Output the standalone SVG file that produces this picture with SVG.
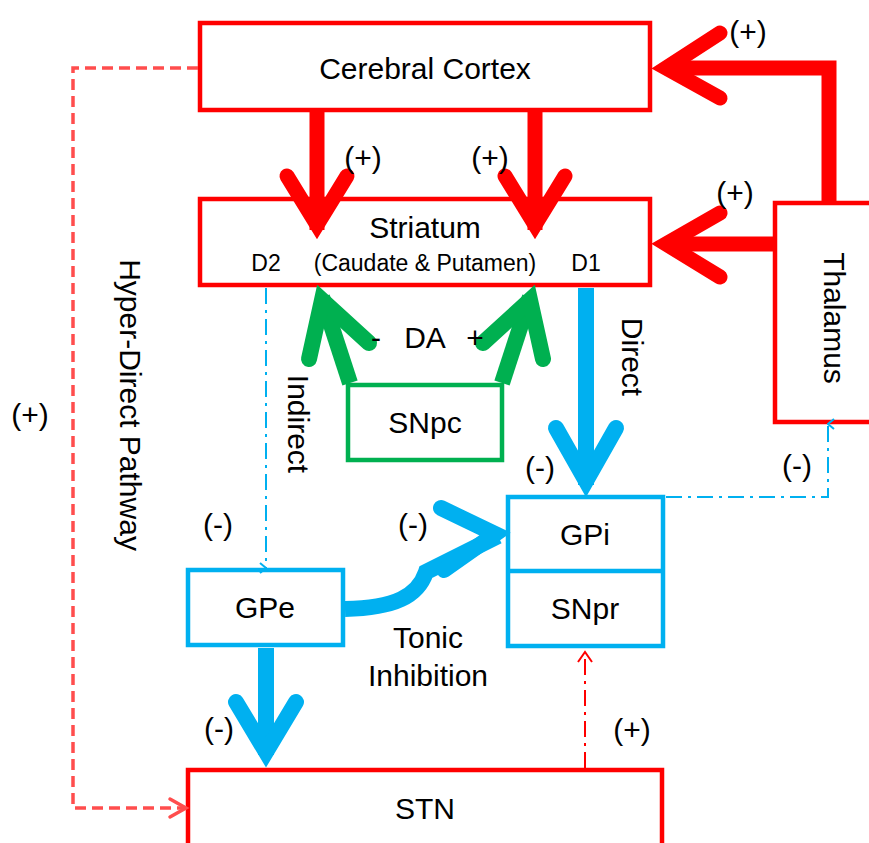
<svg xmlns="http://www.w3.org/2000/svg" width="869" height="843" viewBox="0 0 869 843">
<style>
text{font-family:"Liberation Sans",Arial,sans-serif;fill:#000;}
.lbl{font-size:30px;text-anchor:middle;}
.sm{font-size:23px;text-anchor:middle;}
.red{fill:#fff;stroke:#ff0000;stroke-width:4.5;}
.blue{fill:#fff;stroke:#00b0f0;stroke-width:4.5;}
.green{fill:#fff;stroke:#00b050;stroke-width:4.5;}
.thR{fill:none;stroke:#ff0000;stroke-width:15;}
.thB{fill:none;stroke:#00b0f0;stroke-width:16;}
.thG{fill:none;stroke:#00b050;stroke-width:16;}
.head{stroke-linecap:round;stroke-linejoin:miter;stroke-miterlimit:10;}
</style>
<defs>
<marker id="openB" markerWidth="12" markerHeight="12" refX="6" refY="1" orient="auto-start-reverse" markerUnits="userSpaceOnUse" viewBox="0 0 12 12">
<path d="M1,7 L6,1 L11,7" fill="none" stroke="#00b0f0" stroke-width="2"/>
</marker>
</defs>
<g id="cortex">
<rect class="red" x="200" y="23" width="450" height="87"/>
<text class="lbl" x="425" y="79">Cerebral Cortex</text>
</g>
<g id="striatum">
<rect class="red" x="200" y="199" width="450" height="86"/>
<text class="lbl" x="425" y="238">Striatum</text>
<text class="sm" x="425" y="271">(Caudate &amp; Putamen)</text>
<text class="sm" x="266" y="271">D2</text>
<text class="sm" x="586" y="271">D1</text>
</g>
<g id="thalamus">
<rect class="red" x="775" y="203" width="110" height="219"/>
<text class="lbl" transform="translate(824,318) rotate(90)">Thalamus</text>
</g>
<g id="snpc">
<rect class="green" x="348" y="385" width="154" height="75"/>
<text class="lbl" x="425" y="433">SNpc</text>
</g>
<g id="gpe">
<rect class="blue" x="188" y="570" width="155" height="75"/>
<text class="lbl" x="265" y="618">GPe</text>
</g>
<g id="gpi">
<rect class="blue" x="508" y="497" width="155" height="149"/>
<line x1="508" y1="571" x2="663" y2="571" stroke="#00b0f0" stroke-width="4.5"/>
<text class="lbl" x="585" y="545">GPi</text>
<text class="lbl" x="585" y="619">SNpr</text>
</g>
<g id="stn">
<rect class="red" x="188" y="770" width="474" height="90"/>
<text class="lbl" x="425" y="819">STN</text>
</g>
<g id="connectors">
<!-- hyper-direct -->
<path d="M198,68 H73 V808 H184" fill="none" stroke="#ff4d4d" stroke-width="3.5" stroke-dasharray="11,6"/>
<path d="M170,799 L186,808 L170,817" fill="none" stroke="#ff4d4d" stroke-width="3.5" stroke-linecap="round"/>
<!-- cortex -> striatum -->
<line class="thR" x1="317" y1="112" x2="317" y2="230"/>
<polyline class="thR head" points="287,176 317,225 347,176"/>
<line class="thR" x1="535" y1="112" x2="535" y2="230"/>
<polyline class="thR head" points="505,176 535,225 565,176"/>
<!-- thalamus -> cortex -->
<polyline class="thR" points="829,201 829,68 670,68" stroke-linejoin="miter"/>
<polyline class="thR head" points="720,33 666,68 720,98"/>
<!-- thalamus -> striatum -->
<line class="thR" x1="773" y1="244" x2="670" y2="244"/>
<polyline class="thR head" points="720,213 666,244 720,277"/>
<!-- SNpc -> striatum -->
<line class="thG" x1="350" y1="383" x2="322" y2="297"/>
<polyline class="thG head" points="309,359 322,300 369,343"/>
<line class="thG" x1="502" y1="383" x2="530" y2="297"/>
<polyline class="thG head" points="543,359 530,300 483,343"/>
<!-- indirect -->
<line x1="266" y1="288" x2="266" y2="568" stroke="#00b0f0" stroke-width="2" stroke-dasharray="16,6,3,6" marker-end="url(#openB)"/>
<!-- direct -->
<line class="thB" x1="586" y1="288" x2="586" y2="485"/>
<polyline class="thB head" points="556,428 586,481 616,428"/>
<!-- GPe -> STN -->
<line class="thB" x1="266" y1="648" x2="266" y2="755"/>
<polyline class="thB head" points="236,702 266,752 296,702"/>
<!-- GPe -> GPi tonic -->
<path class="thB" d="M345,609 C395,608 418,596 426,572 L498,536"/>
<polyline class="thB head" points="441,508 495,534 444,570"/>
<!-- GPi -> thalamus -->
<polyline points="666,497 828,497 828,424" fill="none" stroke="#00b0f0" stroke-width="2" stroke-dasharray="16,6,3,6" marker-end="url(#openB)"/>
<!-- STN -> SNpr -->
<line x1="585" y1="768" x2="585" y2="652" stroke="#ff0000" stroke-width="2" stroke-dasharray="16,6,3,6"/>
<path d="M578,662 L585,652 L592,662" fill="none" stroke="#ff0000" stroke-width="2"/>
</g>
<g id="labels">
<text class="lbl" x="363" y="168">(+)</text>
<text class="lbl" x="490" y="168">(+)</text>
<text class="lbl" x="748" y="42">(+)</text>
<text class="lbl" x="735" y="203">(+)</text>
<text class="lbl" x="376" y="348">-</text>
<text class="lbl" x="425" y="348">DA</text>
<text class="lbl" x="475" y="348">+</text>
<text class="lbl" transform="translate(288,424) rotate(90)">Indirect</text>
<text class="lbl" transform="translate(622,357) rotate(90)">Direct</text>
<text class="lbl" transform="translate(120,405) rotate(90)">Hyper-Direct Pathway</text>
<text class="lbl" x="30" y="425">(+)</text>
<text class="lbl" x="540" y="478">(-)</text>
<text class="lbl" x="797" y="476">(-)</text>
<text class="lbl" x="218" y="535">(-)</text>
<text class="lbl" x="413" y="535">(-)</text>
<text class="lbl" x="219" y="739">(-)</text>
<text class="lbl" x="632" y="740">(+)</text>
<text class="lbl" x="428" y="648">Tonic</text>
<text class="lbl" x="428" y="686">Inhibition</text>
</g>
</svg>
